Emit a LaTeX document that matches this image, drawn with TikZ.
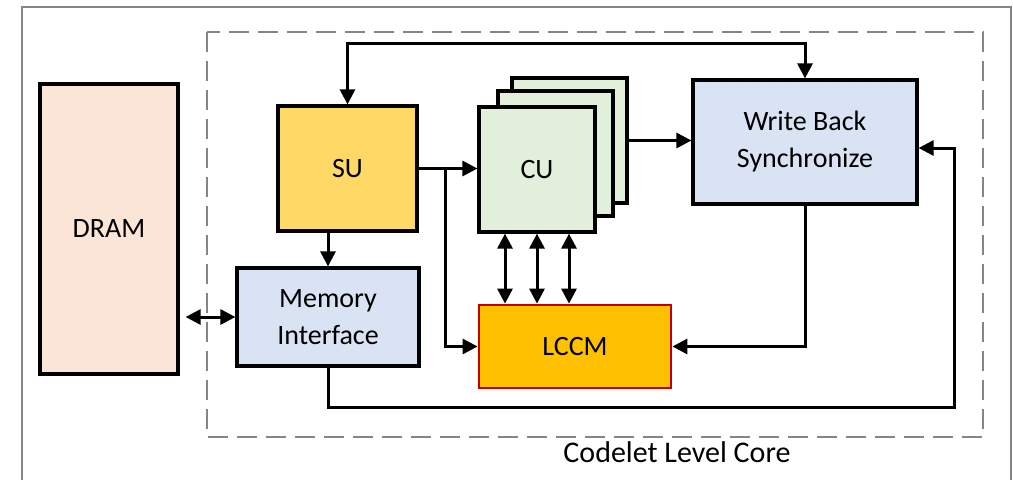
\documentclass[tikz,border=0pt]{standalone}
\usepackage{fontspec}
\setmainfont{Carlito}
\usetikzlibrary{arrows.meta,calc}

\definecolor{dramfill}{HTML}{FBE5D6}
\definecolor{sufill}{HTML}{FFD966}
\definecolor{bluefill}{HTML}{DAE3F3}
\definecolor{cufill}{HTML}{E2EFDA}
\definecolor{lccmfill}{HTML}{FFC000}
\definecolor{lccmline}{HTML}{C00000}
\definecolor{framegray}{HTML}{858585}

\tikzset{
  unit/.style={draw=black, line width=3.2pt, inner sep=0pt,
    font=\fontsize{28}{37}\selectfont, align=center},
  link/.style={draw=black, line width=3pt,
    -{Triangle[length=15pt,width=15pt]}},
  duplex/.style={draw=black, line width=3pt,
    {Triangle[length=15pt,width=15pt]}-{Triangle[length=15pt,width=15pt]}},
}

\begin{document}
\begin{tikzpicture}[x=1pt, y=-1pt]
  \useasboundingbox (0,0) rectangle (1013,480);

  % outer frame (open at the bottom)
  \draw[framegray, line width=2.2pt] (22,480) -- (22,7) -- (1011,7) -- (1011,480);

  % core boundary
  \draw[framegray, line width=2.6pt, dash pattern=on 20pt off 9pt]
    (207,32) rectangle (983,437);
  \node[font=\fontsize{30}{36}\selectfont, anchor=base] (corelabel) at (677,462)
    {Codelet Level Core};

  % units
  \node[unit, fill=dramfill, minimum width=138pt, minimum height=290pt]
    (DRAM) at (109,229) {DRAM};
  \node[unit, fill=sufill, minimum width=139pt, minimum height=125pt]
    (SU) at (347.5,168.5) {SU};
  \node[unit, fill=bluefill, minimum width=182pt, minimum height=98pt]
    (MI) at (328,317) {Memory\\Interface};

  % stacked compute units
  \node[unit, fill=cufill, minimum width=115pt, minimum height=125pt]
    (CUb) at (569.5,140.5) {};
  \node[unit, fill=cufill, minimum width=115pt, minimum height=125pt]
    (CUm) at (555.5,153.5) {};
  \node[unit, fill=cufill, minimum width=116pt, minimum height=125pt]
    (CU) at (537,169.5) {CU};

  \node[unit, fill=bluefill, minimum width=224pt, minimum height=124pt]
    (WB) at (805,142) {Write Back\\Synchronize};
  \node[unit, fill=lccmfill, draw=lccmline, line width=2.8pt,
    minimum width=192pt, minimum height=83pt]
    (LCCM) at (575,346.5) {LCCM};

  % routing points
  \coordinate (topY) at (0,43);
  \coordinate (branch) at (445,168.5);
  \coordinate (loopR) at (954,407);

  % connectors
  \draw[duplex] (SU.north) -- (SU.north |- topY) -| (WB.north);
  \draw[link] (SU.east) -- (CU.west |- SU.east);
  \draw[link] (branch) |- (LCCM.west);
  \draw[link] (CUb.east) -- (WB.west |- CUb.east);
  \draw[link] (SU.south -| MI.north) -- (MI.north);
  \draw[duplex, shorten <=6pt] (DRAM.east |- MI.west) -- (MI.west);
  \foreach \dx in {-32,0,32}
    \draw[duplex] ([xshift=\dx pt]CU.south) -- ([xshift=\dx pt]CU.south |- LCCM.north);
  \draw[link] (WB.south) |- (LCCM.east);
  \draw[link] (MI.south) |- (loopR) |- ([yshift=-6pt]WB.east);
\end{tikzpicture}
\end{document}
